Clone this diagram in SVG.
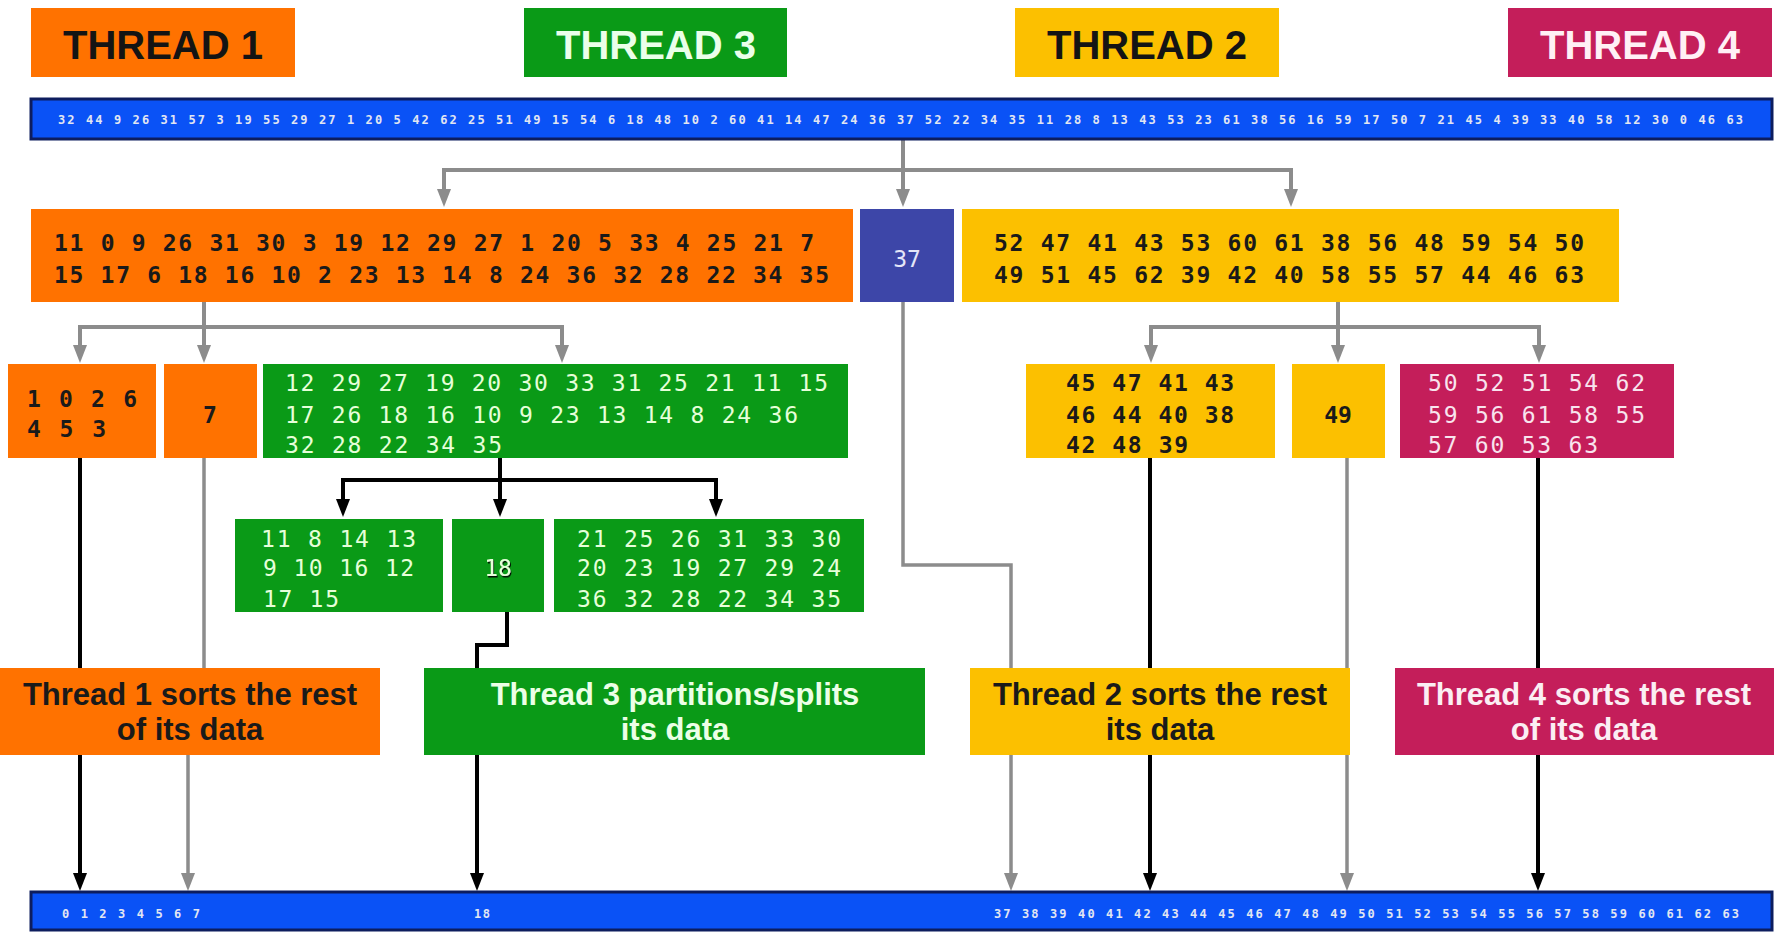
<svg xmlns="http://www.w3.org/2000/svg" width="1781" height="932" viewBox="0 0 1781 932">
  <style>
    .bg { fill: #ffffff; }
    .orange { fill: #ff7200; }
    .green { fill: #0a9a17; }
    .yellow { fill: #fcc000; }
    .magenta { fill: #c41e5a; }
    .pivot { fill: #3d46a8; }
    .bar { fill: #0a52f6; stroke: #0d1d5e; stroke-width: 3; }
    .hdr { font-family: "Liberation Sans", Arial, sans-serif; font-weight: bold; font-size: 40px; text-anchor: middle; }
    .lbl { font-family: "Liberation Sans", Arial, sans-serif; font-weight: bold; font-size: 31px; text-anchor: middle; }
    .num { font-family: "DejaVu Sans Mono", "Liberation Mono", monospace; font-size: 23px; }
    .dark { fill: #1a1a1a; font-weight: bold; }
    .lightg { fill: #e6ffd9; }
    .lightp { fill: #f8e4ee; }
    .lightb { fill: #e4e6f8; }
    .barnum { font-family: "DejaVu Sans Mono", "Liberation Mono", monospace; font-size: 12px; font-weight: bold; fill: #e2e6f2; }
    .mid { text-anchor: middle; }
    .gray { fill: none; stroke: #8c8c8c; stroke-width: 4; stroke-linejoin: miter; }
    .black { fill: none; stroke: #000000; stroke-width: 4; stroke-linejoin: miter; }
    .gray-t { fill: none; stroke: #8c8c8c; stroke-width: 3.5; }
  </style>
  <defs>
    <marker id="arrow-gray" viewBox="0 0 18 14" refX="8" refY="7" markerWidth="18" markerHeight="14" markerUnits="userSpaceOnUse" orient="auto-start-reverse">
      <path d="M0,0 L18,7 L0,14 z" fill="#8c8c8c"/>
    </marker>
    <marker id="arrow-black" viewBox="0 0 18 14" refX="8" refY="7" markerWidth="18" markerHeight="14" markerUnits="userSpaceOnUse" orient="auto-start-reverse">
      <path d="M0,0 L18,7 L0,14 z" fill="#000000"/>
    </marker>
    <filter id="shadow" x="-20%" y="-20%" width="140%" height="140%">
      <feDropShadow dx="1" dy="1.5" stdDeviation="0.6" flood-color="#000000" flood-opacity="0.9"/>
    </filter>
  </defs>

  <rect class="bg" x="0" y="0" width="1781" height="932"/>

  <!-- connectors (drawn beneath the caption boxes) -->
  <g id="connectors">
    <!-- input array split around pivot 37 -->
    <path class="gray" d="M444,197 V170 H1291 V197" marker-start="url(#arrow-gray)" marker-end="url(#arrow-gray)"/>
    <path class="gray" d="M903,140 V197" marker-end="url(#arrow-gray)"/>
    <!-- thread 1 split around 7 -->
    <path class="gray" d="M80,353 V327 H562 V353" marker-start="url(#arrow-gray)" marker-end="url(#arrow-gray)"/>
    <path class="gray" d="M204,302 V353" marker-end="url(#arrow-gray)"/>
    <!-- thread 2 split around 49 -->
    <path class="gray" d="M1151,353 V327 H1539 V353" marker-start="url(#arrow-gray)" marker-end="url(#arrow-gray)"/>
    <path class="gray" d="M1338,302 V353" marker-end="url(#arrow-gray)"/>
    <!-- thread 3 split around 18 -->
    <path class="black" d="M343,507 V480 H716 V507" marker-start="url(#arrow-black)" marker-end="url(#arrow-black)"/>
    <path class="black" d="M500,458 V507" marker-end="url(#arrow-black)"/>
    <!-- pivots placed directly into the output -->
    <path class="gray-t" d="M903,302 V565 H1011 V881" marker-end="url(#arrow-gray)"/>
    <path class="gray-t" d="M204,458 V710 H188 V881" marker-end="url(#arrow-gray)"/>
    <path class="gray-t" d="M1347,458 V881" marker-end="url(#arrow-gray)"/>
    <!-- sorted ranges into the output -->
    <path class="black" d="M80,458 V881" marker-end="url(#arrow-black)"/>
    <path class="black" d="M507,612 V645 H477 V881" marker-end="url(#arrow-black)"/>
    <path class="black" d="M1150,458 V881" marker-end="url(#arrow-black)"/>
    <path class="black" d="M1538,458 V881" marker-end="url(#arrow-black)"/>
  </g>

  <!-- thread headers -->
  <g id="hdr-thread1">
    <rect class="orange" x="31" y="8" width="264" height="69"/>
    <text class="hdr" x="163" y="59" fill="#141414">THREAD 1</text>
  </g>
  <g id="hdr-thread3">
    <rect class="green" x="524" y="8" width="263" height="69"/>
    <text class="hdr" x="656" y="59" fill="#eaffea">THREAD 3</text>
  </g>
  <g id="hdr-thread2">
    <rect class="yellow" x="1015" y="8" width="264" height="69"/>
    <text class="hdr" x="1147" y="59" fill="#141414">THREAD 2</text>
  </g>
  <g id="hdr-thread4">
    <rect class="magenta" x="1508" y="8" width="264" height="69"/>
    <text class="hdr" x="1640" y="59" fill="#fff0f5">THREAD 4</text>
  </g>

  <!-- unsorted input -->
  <g id="input-array">
    <rect class="bar" x="31" y="99" width="1741" height="40"/>
    <text class="barnum" x="58" y="124" textLength="1685">32 44 9 26 31 57 3 19 55 29 27 1 20 5 42 62 25 51 49 15 54 6 18 48 10 2 60 41 14 47 24 36 37 52 22 34 35 11 28 8 13 43 53 23 61 38 56 16 59 17 50 7 21 45 4 39 33 40 58 12 30 0 46 63</text>
  </g>

  <!-- first partition -->
  <g id="t1-block">
    <rect class="orange" x="31" y="209" width="822" height="93"/>
    <text class="num dark" x="54" y="251" textLength="760">11 0 9 26 31 30 3 19 12 29 27 1 20 5 33 4 25 21 7</text>
    <text class="num dark" x="54" y="283" textLength="775">15 17 6 18 16 10 2 23 13 14 8 24 36 32 28 22 34 35</text>
  </g>
  <g id="pivot-37">
    <rect class="pivot" x="860" y="209" width="94" height="93"/>
    <text class="num lightb mid" x="907" y="267">37</text>
  </g>
  <g id="t2-block">
    <rect class="yellow" x="962" y="209" width="657" height="93"/>
    <text class="num dark" x="994" y="251" textLength="590">52 47 41 43 53 60 61 38 56 48 59 54 50</text>
    <text class="num dark" x="994" y="283" textLength="590">49 51 45 62 39 42 40 58 55 57 44 46 63</text>
  </g>

  <!-- second partition -->
  <g id="t1-low">
    <rect class="orange" x="8" y="364" width="148" height="94"/>
    <text class="num dark" x="27" y="407" textLength="110">1 0 2 6</text>
    <text class="num dark" x="27" y="437" textLength="79">4 5 3</text>
  </g>
  <g id="t1-pivot-7">
    <rect class="orange" x="164" y="364" width="93" height="94"/>
    <text class="num dark mid" x="210" y="423">7</text>
  </g>
  <g id="t3-block">
    <rect class="green" x="263" y="364" width="585" height="94"/>
    <text class="num lightg" x="285" y="391" textLength="543">12 29 27 19 20 30 33 31 25 21 11 15</text>
    <text class="num lightg" x="285" y="423" textLength="513">17 26 18 16 10 9 23 13 14 8 24 36</text>
    <text class="num lightg" x="285" y="453" textLength="217">32 28 22 34 35</text>
  </g>
  <g id="t2-low">
    <rect class="yellow" x="1026" y="364" width="249" height="94"/>
    <text class="num dark" x="1066" y="391" textLength="168">45 47 41 43</text>
    <text class="num dark" x="1066" y="423" textLength="168">46 44 40 38</text>
    <text class="num dark" x="1066" y="453" textLength="122">42 48 39</text>
  </g>
  <g id="t2-pivot-49">
    <rect class="yellow" x="1292" y="364" width="93" height="94"/>
    <text class="num dark mid" x="1338" y="423">49</text>
  </g>
  <g id="t4-block">
    <rect class="magenta" x="1400" y="364" width="274" height="94"/>
    <text class="num lightp" x="1428" y="391" textLength="217">50 52 51 54 62</text>
    <text class="num lightp" x="1428" y="423" textLength="217">59 56 61 58 55</text>
    <text class="num lightp" x="1428" y="453" textLength="170">57 60 53 63</text>
  </g>

  <!-- thread 3 partition -->
  <g id="t3-low">
    <rect class="green" x="235" y="519" width="208" height="93"/>
    <text class="num lightg" x="261" y="547" textLength="155">11 8 14 13</text>
    <text class="num lightg" x="263" y="576" textLength="151">9 10 16 12</text>
    <text class="num lightg" x="263" y="607" textLength="76">17 15</text>
  </g>
  <g id="t3-pivot-18">
    <rect class="green" x="452" y="519" width="92" height="93"/>
    <text class="num lightg mid" x="498" y="576" filter="url(#shadow)">18</text>
  </g>
  <g id="t3-high">
    <rect class="green" x="554" y="519" width="310" height="93"/>
    <text class="num lightg" x="577" y="547" textLength="264">21 25 26 31 33 30</text>
    <text class="num lightg" x="577" y="576" textLength="264">20 23 19 27 29 24</text>
    <text class="num lightg" x="577" y="607" textLength="264">36 32 28 22 34 35</text>
  </g>

  <!-- captions -->
  <g id="label-t1">
    <rect class="orange" x="0" y="668" width="380" height="87"/>
    <text class="lbl" x="190" y="705" fill="#1a1a1a">Thread 1 sorts the rest</text>
    <text class="lbl" x="190" y="740" fill="#1a1a1a">of its data</text>
  </g>
  <g id="label-t3">
    <rect class="green" x="424" y="668" width="501" height="87"/>
    <text class="lbl" x="675" y="705" fill="#ecffe6">Thread 3 partitions/splits</text>
    <text class="lbl" x="675" y="740" fill="#ecffe6">its data</text>
  </g>
  <g id="label-t2">
    <rect class="yellow" x="970" y="668" width="380" height="87"/>
    <text class="lbl" x="1160" y="705" fill="#1a1a1a">Thread 2 sorts the rest</text>
    <text class="lbl" x="1160" y="740" fill="#1a1a1a">its data</text>
  </g>
  <g id="label-t4">
    <rect class="magenta" x="1395" y="668" width="379" height="87"/>
    <text class="lbl" x="1584" y="705" fill="#fbeef3">Thread 4 sorts the rest</text>
    <text class="lbl" x="1584" y="740" fill="#fbeef3">of its data</text>
  </g>

  <!-- sorted output -->
  <g id="output-array">
    <rect class="bar" x="31" y="892" width="1741" height="38"/>
    <text class="barnum" x="62" y="918" textLength="138">0 1 2 3 4 5 6 7</text>
    <text class="barnum" x="474" y="918" textLength="16">18</text>
    <text class="barnum" x="994" y="918" textLength="745">37 38 39 40 41 42 43 44 45 46 47 48 49 50 51 52 53 54 55 56 57 58 59 60 61 62 63</text>
  </g>
</svg>
